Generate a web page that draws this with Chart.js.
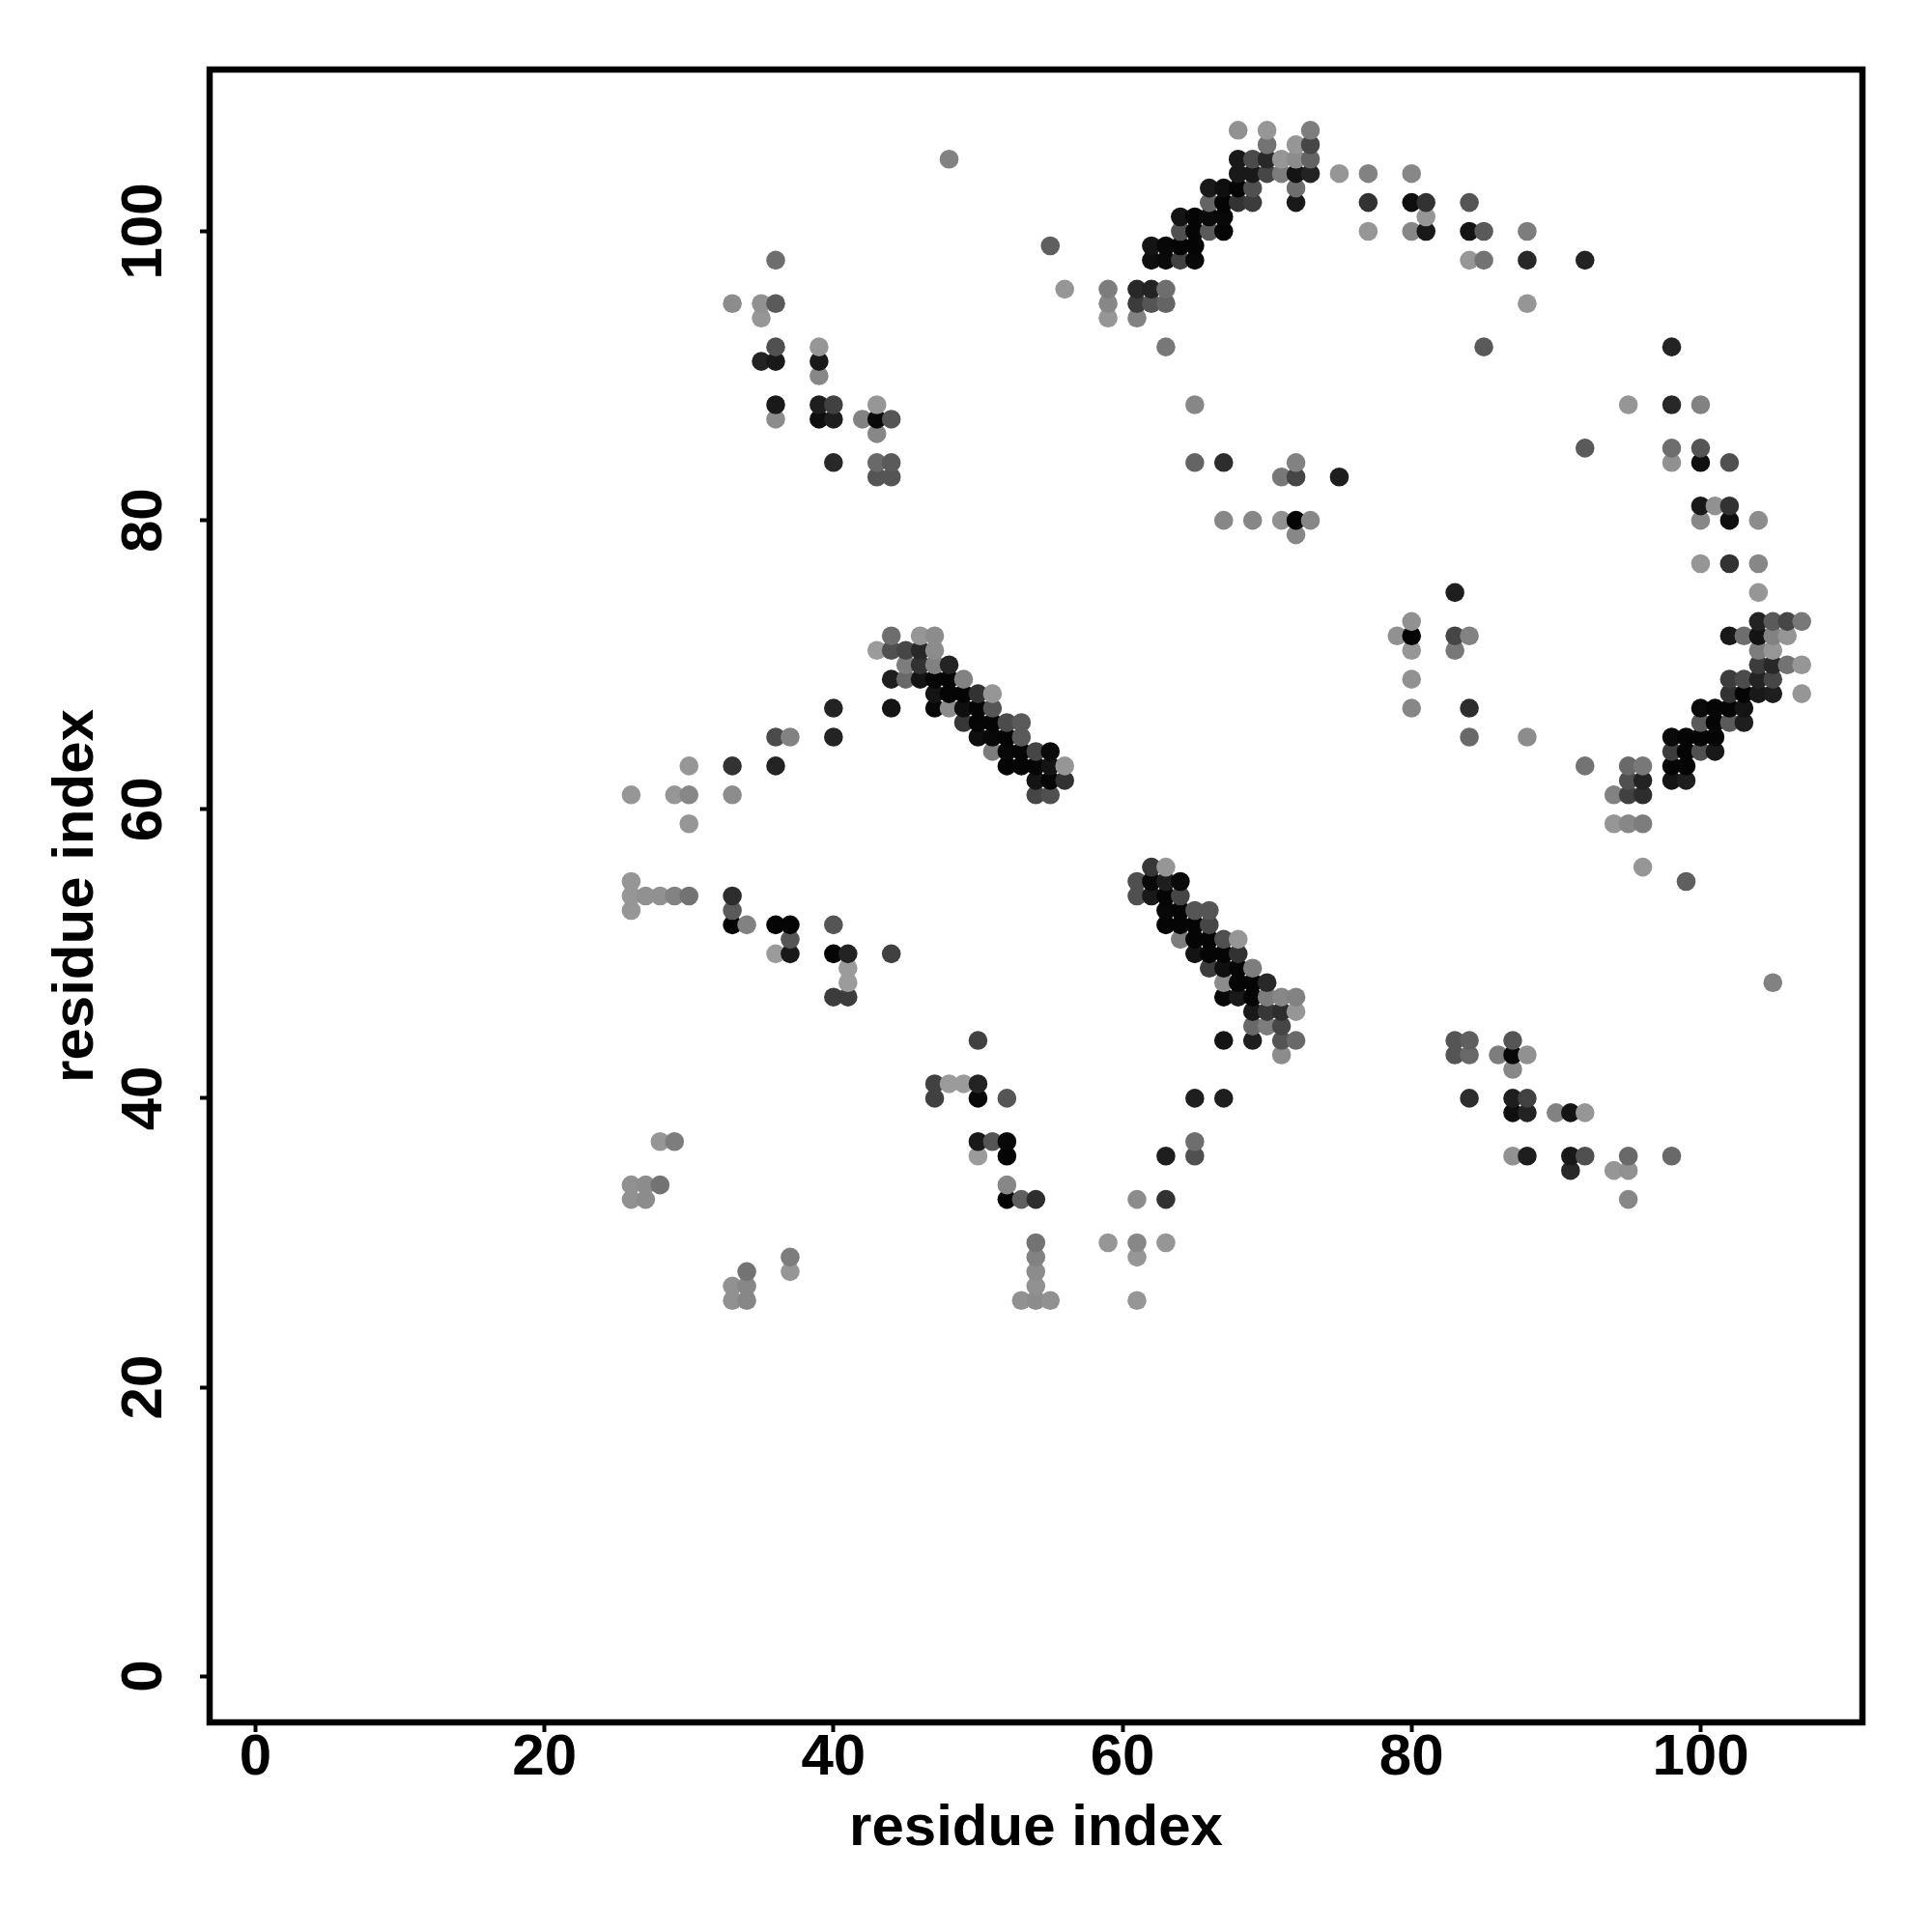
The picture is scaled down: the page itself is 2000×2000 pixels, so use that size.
<!DOCTYPE html>
<html>
<head>
<meta charset="utf-8">
<title>residue contact map</title>
<script src="https://cdn.jsdelivr.net/npm/chart.js@4/dist/chart.umd.min.js"></script>
<style>
    html, body { margin: 0; padding: 0; background: #ffffff; }
    canvas { display: block; }
</style>
</head>
<body>
<canvas id="contactChart" width="2000" height="2000"></canvas>
<script>
// Data: one entry per row of the map (y residue), with x residues and grey level of each dot
const tickValues = [0, 20, 40, 60, 80, 100];
const axisLabel = "residue index";

const rowY = [
    26, 27, 28, 29, 30, 33, 34, 35, 36, 37, 39, 40, 41, 42, 43, 44, 45, 46, 47, 48,
    49, 50, 51, 52, 53, 54, 55, 56, 59, 61, 62, 63, 64, 65, 66, 67, 68, 69, 70, 71,
    72, 73, 75, 77, 79, 80, 81, 83, 84, 85, 86, 87, 88, 90, 91, 92, 94, 95, 96, 98,
    99, 100, 101, 102, 103, 104, 105, 106, 107
];

const rowX = [
    [33, 34, 53, 54, 55, 61],
    [33, 34, 54],
    [34, 37, 54],
    [37, 54, 61],
    [54, 59, 61, 63],
    [26, 27, 52, 53, 54, 61, 63, 95],
    [26, 27, 28, 52],
    [91, 94, 95],
    [50, 52, 63, 65, 87, 88, 91, 92, 95, 98],
    [28, 29, 50, 51, 52, 65],
    [87, 88, 90, 91, 92],
    [47, 50, 52, 65, 67, 84, 87, 88],
    [47, 48, 49, 50],
    [87],
    [71, 83, 84, 86, 87, 88],
    [50, 67, 69, 71, 72, 83, 84, 87],
    [69, 70, 71],
    [69, 70, 71, 72],
    [40, 41, 67, 68, 69, 70, 71, 72],
    [41, 67, 68, 69, 70, 105],
    [41, 66, 67, 68, 69],
    [36, 37, 40, 41, 44, 65, 66, 67, 68],
    [37, 64, 65, 66, 67, 68],
    [33, 34, 36, 37, 40, 63, 64, 65, 66],
    [26, 33, 63, 64, 65, 66],
    [26, 27, 28, 29, 30, 33, 61, 62, 63, 64],
    [26, 61, 62, 63, 64, 99],
    [62, 63, 96],
    [30, 94, 95, 96],
    [26, 29, 30, 33, 54, 55, 94, 95, 96],
    [54, 55, 56, 95, 96, 98, 99],
    [30, 33, 36, 52, 53, 54, 55, 56, 92, 95, 96, 98, 99],
    [51, 52, 53, 54, 55, 98, 99, 100, 101],
    [36, 37, 40, 50, 51, 52, 53, 84, 88, 98, 99, 100, 101],
    [49, 50, 51, 52, 53, 100, 101, 102, 103],
    [40, 44, 47, 48, 49, 50, 51, 80, 84, 100, 101, 102, 103],
    [47, 48, 49, 50, 51, 102, 103, 104, 105, 107],
    [44, 45, 46, 47, 48, 49, 80, 102, 103, 104, 105],
    [45, 46, 47, 48, 104, 105, 106, 107],
    [43, 44, 45, 46, 47, 80, 83, 104, 105],
    [44, 46, 47, 79, 80, 83, 84, 102, 103, 104, 105, 106],
    [80, 104, 105, 106, 107],
    [83, 104],
    [100, 102, 104],
    [72],
    [67, 69, 71, 72, 73, 100, 102, 104],
    [100, 101, 102],
    [43, 44, 71, 72, 75],
    [40, 43, 44, 65, 67, 72, 98, 100, 102],
    [92, 98, 100],
    [43],
    [36, 39, 40, 42, 43, 44],
    [36, 39, 40, 43, 65, 95, 98, 100],
    [39],
    [35, 36, 39],
    [36, 39, 63, 85, 98],
    [35, 59, 61],
    [33, 35, 36, 59, 61, 62, 63, 88],
    [56, 59, 61, 62, 63],
    [36, 62, 63, 64, 65, 84, 85, 88, 92],
    [55, 62, 63, 64, 65],
    [64, 65, 66, 67, 77, 80, 81, 84, 85, 88],
    [64, 65, 66, 67, 81],
    [66, 67, 68, 69, 72, 77, 80, 81, 84],
    [66, 67, 68, 69, 72],
    [68, 69, 70, 71, 72, 73, 75, 77, 80],
    [48, 68, 69, 70, 71, 72, 73],
    [70, 72, 73],
    [68, 70, 73]
];

const rowGrey = [
    [145, 135, 145, 140, 145, 150],
    [145, 135, 145],
    [115, 150, 140],
    [125, 130, 150],
    [115, 150, 135, 150],
    [145, 140, 5, 95, 45, 140, 50, 135],
    [145, 140, 115, 135],
    [40, 150, 145],
    [155, 5, 30, 80, 145, 30, 25, 80, 105, 105],
    [150, 125, 25, 85, 8, 110],
    [15, 35, 130, 20, 150],
    [65, 8, 85, 30, 30, 45, 30, 65],
    [65, 155, 155, 35],
    [135],
    [140, 85, 105, 125, 8, 145],
    [65, 20, 30, 85, 105, 85, 95, 85],
    [105, 125, 70],
    [25, 55, 45, 150],
    [60, 60, 8, 25, 5, 125, 135, 130],
    [155, 140, 5, 5, 40, 130],
    [155, 60, 15, 5, 125],
    [155, 25, 5, 35, 65, 20, 5, 5, 50],
    [85, 125, 5, 5, 80, 150],
    [5, 130, 5, 5, 85, 5, 5, 5, 70],
    [150, 90, 8, 5, 85, 85],
    [150, 145, 145, 130, 115, 45, 80, 25, 5, 70],
    [150, 80, 10, 30, 10, 95],
    [55, 150, 150],
    [150, 150, 135, 125],
    [150, 150, 135, 140, 70, 80, 130, 65, 45],
    [20, 5, 50, 80, 35, 20, 30],
    [150, 50, 35, 5, 5, 5, 20, 150, 115, 105, 120, 5, 5],
    [125, 8, 5, 70, 10, 60, 5, 80, 25],
    [75, 130, 35, 15, 8, 5, 90, 105, 140, 10, 5, 5, 5],
    [55, 5, 5, 75, 90, 90, 5, 90, 30],
    [35, 20, 8, 140, 15, 5, 85, 135, 45, 10, 5, 5, 20],
    [20, 5, 5, 50, 150, 50, 5, 25, 30, 150],
    [30, 105, 20, 5, 5, 130, 145, 60, 75, 35, 70],
    [125, 50, 130, 35, 60, 40, 115, 150],
    [155, 80, 70, 40, 140, 150, 120, 125, 150],
    [110, 150, 140, 145, 5, 70, 130, 25, 110, 20, 130, 150],
    [145, 35, 90, 70, 120],
    [30, 150],
    [150, 50, 135],
    [135],
    [135, 135, 145, 5, 135, 135, 15, 140],
    [25, 145, 50],
    [85, 85, 120, 70, 30],
    [40, 105, 90, 100, 45, 130, 145, 15, 80],
    [90, 110, 85],
    [135],
    [140, 15, 30, 130, 8, 85],
    [25, 30, 65, 150, 135, 150, 40, 130],
    [135],
    [35, 25, 25],
    [80, 150, 120, 90, 35],
    [150, 150, 130],
    [140, 145, 90, 135, 60, 85, 100, 150],
    [150, 125, 40, 35, 110],
    [110, 15, 10, 65, 8, 150, 115, 40, 35],
    [95, 20, 8, 5, 5],
    [80, 5, 90, 5, 150, 135, 25, 20, 90, 125],
    [20, 5, 10, 8, 150],
    [100, 5, 50, 60, 25, 50, 15, 50, 85],
    [25, 15, 5, 80, 110],
    [25, 25, 70, 125, 20, 35, 150, 130, 135],
    [130, 25, 75, 40, 150, 140, 100],
    [115, 150, 70],
    [145, 150, 125]
];

// Flatten rows into points and colours
const points = [];
const colours = [];
rowY.forEach((y, r) => {
    rowX[r].forEach((x, i) => {
        const g = rowGrey[r][i];
        points.push({ x: x, y: y });
        colours.push(`rgb(${g},${g},${g})`);
    });
});

const fontFamily = "'Liberation Sans', Arial, sans-serif";

// Box around the plot area
const framePlugin = {
    id: "frame",
    afterDraw(chart) {
        const { ctx, chartArea } = chart;
        ctx.save();
        ctx.strokeStyle = "#000000";
        ctx.lineWidth = 6.5;
        ctx.strokeRect(chartArea.left, chartArea.top, chartArea.right - chartArea.left, chartArea.bottom - chartArea.top);
        ctx.restore();
    }
};

function fixedTicks(scale) {
    scale.ticks = tickValues.map(v => ({ value: v }));
}

new Chart(document.getElementById("contactChart").getContext("2d"), {
    type: "scatter",
    data: {
        datasets: [{
            data: points,
            pointRadius: 9.8,
            pointBorderWidth: 0,
            pointBackgroundColor: colours
        }]
    },
    plugins: [framePlugin],
    options: {
        responsive: false,
        animation: false,
        layout: { padding: { top: 72, right: 72, left: 0, bottom: 0 } },
        plugins: {
            legend: { display: false },
            tooltip: { enabled: false }
        },
        scales: {
            x: {
                type: "linear",
                min: -3.17,
                max: 111.2,
                afterBuildTicks: fixedTicks,
                afterFit(scale) { scale.height = 217; },
                border: { display: false },
                grid: { drawOnChartArea: false, tickLength: 10, tickWidth: 4, tickColor: "#000000" },
                ticks: {
                    color: "#000000",
                    padding: -9,
                    maxRotation: 0,
                    font: { family: fontFamily, size: 60, weight: "bold" }
                },
                title: {
                    display: true,
                    text: axisLabel,
                    color: "#000000",
                    padding: { top: 0, bottom: 71 },
                    font: { family: fontFamily, size: 60, weight: "bold" }
                }
            },
            y: {
                type: "linear",
                min: -3.2,
                max: 111.2,
                afterBuildTicks: fixedTicks,
                afterFit(scale) { scale.width = 217; },
                border: { display: false },
                grid: { drawOnChartArea: false, tickLength: 10, tickWidth: 4, tickColor: "#000000" },
                ticks: {
                    color: "#000000",
                    padding: 6,
                    minRotation: 90,
                    maxRotation: 90,
                    crossAlign: "center",
                    font: { family: fontFamily, size: 60, weight: "bold" }
                },
                title: {
                    display: true,
                    text: axisLabel,
                    color: "#000000",
                    padding: { top: 43, bottom: 0 },
                    font: { family: fontFamily, size: 60, weight: "bold" }
                }
            }
        }
    }
});
</script>
</body>
</html>
